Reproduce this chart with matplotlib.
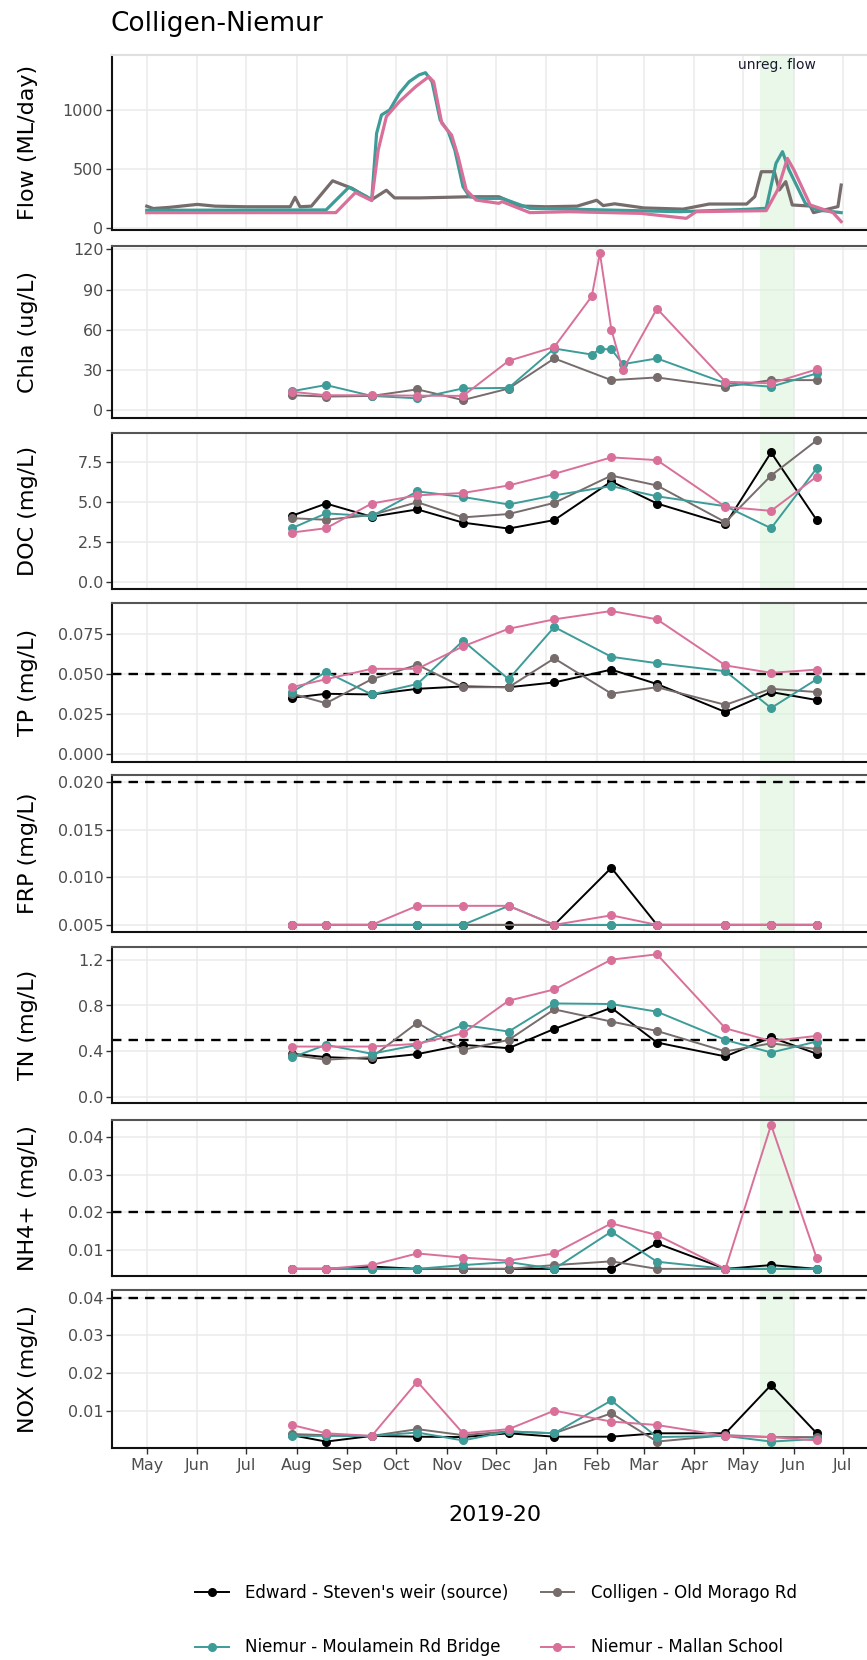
import numpy as np
import pandas as pd
import matplotlib
matplotlib.use('Agg')
import matplotlib.pyplot as plt
import matplotlib.dates as mdates
from matplotlib.lines import Line2D

# sites and colours (legend order)
sites = ["Edward - Steven's weir (source)", "Colligen - Old Morago Rd",
         "Niemur - Moulamein Rd Bridge", "Niemur - Mallan School"]
colours = ['#000000', '#776c6c', '#3d9c98', '#d9709a']

sample_dates = ['2019-07-29', '2019-08-19', '2019-09-16', '2019-10-14', '2019-11-11', '2019-12-09',
                '2020-01-06', '2020-02-10', '2020-03-09', '2020-04-20', '2020-05-18', '2020-06-15']

flow_colligen_dates = ['2019-05-01', '2019-05-05', '2019-05-15', '2019-06-01', '2019-06-12', '2019-07-01',
                       '2019-07-28', '2019-07-31', '2019-08-03', '2019-08-10', '2019-08-23', '2019-09-04',
                       '2019-09-13', '2019-09-16', '2019-09-25', '2019-09-30', '2019-10-15', '2019-11-01',
                       '2019-11-15', '2019-12-03', '2019-12-16', '2020-01-01', '2020-01-20', '2020-02-01',
                       '2020-02-05', '2020-02-12', '2020-03-01', '2020-03-25', '2020-04-10', '2020-05-03',
                       '2020-05-08', '2020-05-12', '2020-05-20', '2020-05-23', '2020-05-27', '2020-05-31',
                       '2020-06-11', '2020-06-13', '2020-06-28', '2020-06-30']
flow_colligen = [185, 165, 175, 200, 185, 180, 180, 260, 180, 185, 400, 336, 260, 240, 320, 255, 255, 260,
                 265, 265, 186, 180, 185, 235, 190, 205, 170, 160, 203, 203, 266, 477, 477, 322, 393, 195,
                 186, 130, 181, 364]
flow_moulamein_dates = ['2019-05-01', '2019-08-19', '2019-09-02', '2019-09-13', '2019-09-16', '2019-09-19',
                        '2019-09-22', '2019-09-27', '2019-10-03', '2019-10-09', '2019-10-15', '2019-10-19',
                        '2019-10-23', '2019-10-28', '2019-11-02', '2019-11-06', '2019-11-11', '2019-11-15',
                        '2019-11-21', '2019-12-05', '2019-12-22', '2020-01-15', '2020-03-23', '2020-05-03',
                        '2020-05-15', '2020-05-21', '2020-05-25', '2020-05-29', '2020-06-08', '2020-06-15',
                        '2020-06-30']
flow_moulamein = [150, 153, 345, 266, 237, 802, 958, 1000, 1141, 1240, 1297, 1316, 1240, 915, 816, 661, 350,
                  266, 251, 251, 167, 160, 138, 158, 167, 548, 647, 492, 209, 153, 130]
flow_mallan_dates = ['2019-05-01', '2019-08-25', '2019-09-06', '2019-09-16', '2019-09-20', '2019-09-25',
                     '2019-10-03', '2019-10-13', '2019-10-21', '2019-10-24', '2019-10-29', '2019-11-04',
                     '2019-11-08', '2019-11-13', '2019-11-19', '2019-12-03', '2019-12-05', '2019-12-22',
                     '2020-01-15', '2020-02-28', '2020-03-27', '2020-04-02', '2020-05-15', '2020-05-22',
                     '2020-05-28', '2020-06-01', '2020-06-11', '2020-06-25', '2020-06-30']
flow_mallan = [130, 130, 300, 232, 661, 944, 1071, 1198, 1282, 1240, 887, 788, 605, 322, 237, 209, 223, 130,
               138, 124, 82, 138, 147, 322, 590, 492, 195, 130, 54]

# chlorophyll a (extra Niemur samples in Jan/Feb)
chla_niemur_dates = ['2019-07-29', '2019-08-19', '2019-09-16', '2019-10-14', '2019-11-11', '2019-12-09',
                     '2020-01-06', '2020-01-29', '2020-02-03', '2020-02-10', '2020-02-17', '2020-03-09',
                     '2020-04-20', '2020-05-18', '2020-06-15']
chla_colligen = [11, 10, 10.5, 15.4, 7.4, 16, 38.5, 22.3, 24.3, 17.4, 22.3, 22.3]
chla_moulamein = [14, 18.6, 10.5, 8.7, 16.1, 16.5, 45.9, 41.4, 45.4, 45.4, 34.2, 38.5, 20, 17.4, 27.3]
chla_mallan = [13.6, 11, 11, 10.7, 10.5, 36.7, 47.1, 84.9, 117.1, 60.1, 29.8, 75.7, 21.1, 19.9, 30.3]

doc_edward = [4.15, 4.92, 4.09, 4.55, 3.72, 3.35, 3.88, 6.3, 4.92, 3.62, 8.12, 3.88]
doc_colligen = [4.0, 3.9, 4.2, 5.0, 4.05, 4.26, 4.96, 6.67, 6.05, 3.75, 6.67, 8.88]
doc_moulamein = [3.37, 4.3, 4.13, 5.68, 5.33, 4.86, 5.43, 6.01, 5.37, 4.75, 3.37, 7.13]
doc_mallan = [3.1, 3.37, 4.92, 5.43, 5.58, 6.05, 6.78, 7.81, 7.64, 4.71, 4.46, 6.61]

tp_edward = [0.0354, 0.0379, 0.0375, 0.041, 0.0425, 0.042, 0.045, 0.053, 0.044, 0.0265, 0.039, 0.034]
tp_colligen = [0.038, 0.032, 0.047, 0.056, 0.042, 0.042, 0.060, 0.038, 0.042, 0.031, 0.041, 0.039]
tp_moulamein = [0.039, 0.0515, 0.0375, 0.044, 0.071, 0.047, 0.0796, 0.061, 0.057, 0.052, 0.029, 0.047]
tp_mallan = [0.042, 0.047, 0.0535, 0.0535, 0.0675, 0.0785, 0.0844, 0.0896, 0.0844, 0.0556, 0.051, 0.053]

frp_edward = [0.005, 0.005, 0.005, 0.005, 0.005, 0.005, 0.005, 0.011, 0.005, 0.005, 0.005, 0.005]
frp_colligen = [0.005, 0.005, 0.005, 0.005, 0.005, np.nan, 0.005, 0.005, 0.005, 0.005, 0.005, 0.005]
frp_moulamein = [0.005, 0.005, 0.005, 0.005, 0.005, 0.007, 0.005, 0.005, 0.005, 0.005, 0.005, 0.005]
frp_mallan = [0.005, 0.005, 0.005, 0.007, 0.007, 0.007, 0.005, 0.006, 0.005, 0.005, 0.005, 0.005]

tn_edward = [0.379, 0.35, 0.335, 0.376, 0.457, 0.428, 0.596, 0.78, 0.477, 0.356, 0.523, 0.379]
tn_colligen = [0.37, 0.327, 0.35, 0.65, 0.413, 0.5, 0.766, 0.66, 0.578, 0.4, 0.47, 0.42]
tn_moulamein = [0.347, 0.457, 0.379, 0.457, 0.63, 0.573, 0.818, 0.813, 0.746, 0.5, 0.39, 0.486]
tn_mallan = [0.442, 0.442, 0.442, 0.466, 0.558, 0.842, 0.94, 1.2, 1.246, 0.601, 0.49, 0.535]

nh4_edward = [0.005, 0.005, 0.0056, 0.005, 0.005, 0.005, 0.005, 0.005, 0.0118, 0.005, 0.006, 0.005]
nh4_colligen = [0.005, 0.005, 0.005, 0.005, 0.005, 0.005, 0.006, 0.007, 0.005, 0.005, 0.005, 0.005]
nh4_moulamein = [0.005, 0.005, 0.005, 0.005, 0.006, 0.0068, 0.005, 0.0149, 0.0069, 0.005, 0.005, 0.005]
nh4_mallan = [0.005, 0.005, 0.006, 0.0091, 0.008, 0.0072, 0.0091, 0.0171, 0.014, 0.005, 0.0433, 0.0078]

nox_edward = [0.0035, 0.0018, 0.0033, 0.0031, 0.003, 0.004, 0.0031, 0.0031, 0.004, 0.004, 0.0168, 0.004]
nox_colligen = [0.0038, 0.0035, 0.0033, 0.0051, 0.0035, 0.0045, 0.004, 0.0093, 0.0018, 0.0035, 0.003, 0.003]
nox_moulamein = [0.0033, 0.0033, 0.0033, 0.0042, 0.0021, 0.0045, 0.004, 0.0127, 0.003, 0.0033, 0.0018, 0.0025]
nox_mallan = [0.0062, 0.004, 0.0033, 0.0177, 0.004, 0.0051, 0.01, 0.0071, 0.0062, 0.0033, 0.003, 0.0021]

unreg_start, unreg_end = '2020-05-11', '2020-06-01'

# panels: label, [(dates, values) per site or None], ylim, ticks, tick labels, guideline
panels = [
    ('Flow (ML/day)', [None, (flow_colligen_dates, flow_colligen), (flow_moulamein_dates, flow_moulamein),
                       (flow_mallan_dates, flow_mallan)],
     (-17, 1466), [0, 500, 1000], ['0', '500', '1000'], None),
    ('Chla (ug/L)', [None, (sample_dates, chla_colligen), (chla_niemur_dates, chla_moulamein),
                     (chla_niemur_dates, chla_mallan)],
     (-6, 122.5), [0, 30, 60, 90, 120], ['0', '30', '60', '90', '120'], None),
    ('DOC (mg/L)', [(sample_dates, v) for v in (doc_edward, doc_colligen, doc_moulamein, doc_mallan)],
     (-0.44, 9.34), [0, 2.5, 5, 7.5], ['0.0', '2.5', '5.0', '7.5'], None),
    ('TP (mg/L)', [(sample_dates, v) for v in (tp_edward, tp_colligen, tp_moulamein, tp_mallan)],
     (-0.0047, 0.0946), [0, 0.025, 0.05, 0.075], ['0.000', '0.025', '0.050', '0.075'], 0.05),
    ('FRP (mg/L)', [(sample_dates, v) for v in (frp_edward, frp_colligen, frp_moulamein, frp_mallan)],
     (0.00425, 0.02075), [0.005, 0.01, 0.015, 0.02], ['0.005', '0.010', '0.015', '0.020'], 0.02),
    ('TN (mg/L)', [(sample_dates, v) for v in (tn_edward, tn_colligen, tn_moulamein, tn_mallan)],
     (-0.05, 1.31), [0, 0.4, 0.8, 1.2], ['0.0', '0.4', '0.8', '1.2'], 0.5),
    ('NH4+ (mg/L)', [(sample_dates, v) for v in (nh4_edward, nh4_colligen, nh4_moulamein, nh4_mallan)],
     (0.0031, 0.0446), [0.01, 0.02, 0.03, 0.04], ['0.01', '0.02', '0.03', '0.04'], 0.02),
    ('NOX (mg/L)', [(sample_dates, v) for v in (nox_edward, nox_colligen, nox_moulamein, nox_mallan)],
     (0.0001, 0.042), [0.01, 0.02, 0.03, 0.04], ['0.01', '0.02', '0.03', '0.04'], 0.04),
]

W, H = 867, 1660
fig = plt.figure(figsize=(W / 100, H / 100), dpi=100)
plt.rcParams['font.family'] = ['DejaVu Sans']

ax_left, ax_right = 111.7, 878
panel_px = [(55, 230), (246, 418), (433, 589), (603, 762), (775, 932), (947, 1103), (1120, 1276), (1290, 1448)]

xmin = mdates.date2num(pd.Timestamp('2019-04-09 12:00'))
xmax = mdates.date2num(pd.Timestamp('2020-07-22 14:00'))
months = pd.date_range('2019-05-01', '2020-07-01', freq='MS')

for i, (label, series, ylim, ticks, ticklabels, hline) in enumerate(panels):
    top, bottom = panel_px[i]
    ax = fig.add_axes([ax_left / W, 1 - bottom / H, (ax_right - ax_left) / W, (bottom - top) / H])
    ax.set_axisbelow(True)
    ax.grid(True, color='#ebebeb', lw=1.1)
    ax.axvspan(mdates.date2num(pd.Timestamp(unreg_start)), mdates.date2num(pd.Timestamp(unreg_end)),
               color='#d6f3d6', alpha=0.5, lw=0, zorder=0.8)

    for j, s in enumerate(series):
        if s is None:
            continue
        d = mdates.date2num(pd.to_datetime(s[0]))
        v = np.array(s[1], dtype=float)
        ok = ~np.isnan(v)
        if i == 0:
            ax.plot(d[ok], v[ok], color=colours[j], lw=2.3, zorder=2 + j)
        else:
            ax.plot(d[ok], v[ok], color=colours[j], lw=1.4, marker='o', ms=5.5, zorder=2 + j)

    if hline is not None:
        ax.axhline(hline, color='black', lw=1.7, ls=(0, (4, 3)), zorder=1.5)

    ax.set_xlim(xmin, xmax)
    ax.set_ylim(*ylim)
    ax.set_yticks(ticks)
    ax.set_yticklabels(ticklabels)
    ax.set_xticks(mdates.date2num(months))
    ax.tick_params(axis='y', length=4, width=1, color='#333333', labelsize=11.5, labelcolor='#4d4d4d', pad=2)
    if i == len(panels) - 1:
        ax.set_xticklabels([m.strftime('%b') for m in months])
        ax.tick_params(axis='x', length=4, width=1, color='#333333', labelsize=11.5, labelcolor='#4d4d4d', pad=3)
    else:
        ax.tick_params(axis='x', length=0, labelbottom=False)

    for side in ('left', 'bottom'):
        ax.spines[side].set_color('#111111')
        ax.spines[side].set_linewidth(1.5)
    ax.spines['top'].set_color('#e0e0e0' if i == 0 else '#555555')
    ax.spines['top'].set_linewidth(1.5)
    ax.spines['right'].set_visible(False)

    ax.set_ylabel(label, fontsize=16, va='center')
    ax.yaxis.set_label_coords((27.6 - ax_left) / (ax_right - ax_left), 0.5)

    if i == 0:
        ax.text(mdates.date2num(pd.Timestamp('2020-05-21 12:00')), 1380, 'unreg. flow',
                ha='center', va='center', fontsize=10, color='#1a1a2e')

fig.text(111 / W, 1 - 24 / H, 'Colligen-Niemur', fontsize=19, ha='left', va='center')
fig.text(495 / W, 1 - 1515 / H, '2019-20', fontsize=16, ha='center', va='center')

handles = [Line2D([], [], color=c, lw=1.4, marker='o', ms=5.5) for c in colours]
order = [0, 2, 1, 3]
fig.legend([handles[k] for k in order], [sites[k] for k in order], ncol=2, loc='center',
           bbox_to_anchor=(496 / W, 1 - 1620 / H), frameon=False, fontsize=12,
           handlelength=2, handletextpad=1.0, columnspacing=1.9, labelspacing=2.2)

fig.savefig('out.png', dpi=100)
